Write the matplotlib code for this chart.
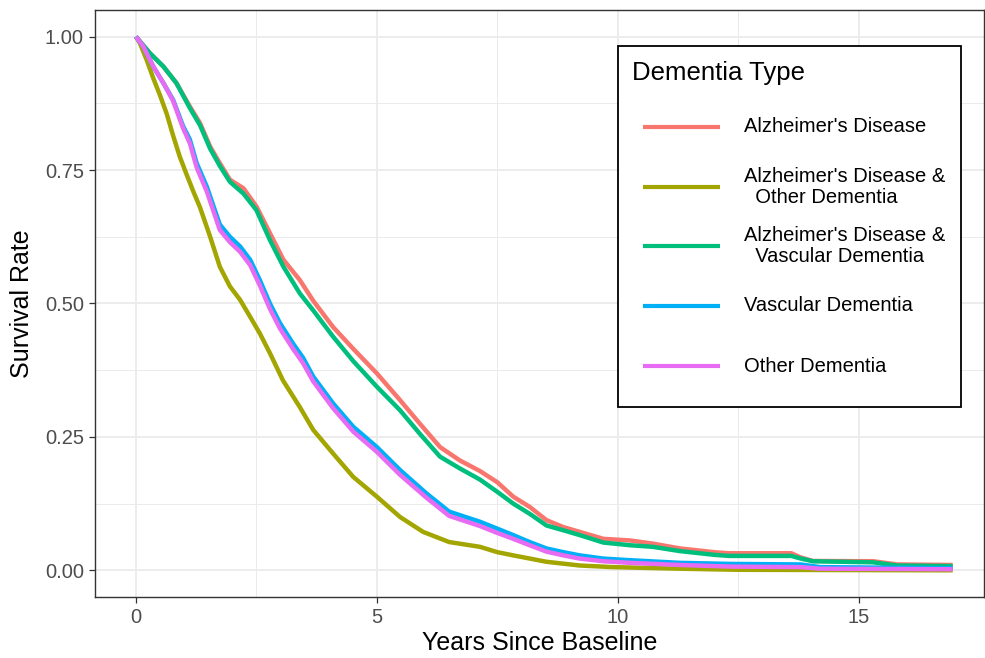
import matplotlib
matplotlib.use("Agg")
import matplotlib.pyplot as plt
from matplotlib.lines import Line2D
from matplotlib.patches import Rectangle

plt.rcParams['font.family'] = ['Liberation Sans', 'DejaVu Sans']

# survival curves (years since baseline, survival rate)
groups = ["Alzheimer's Disease",
          "Alzheimer's Disease &\n  Other Dementia",
          "Alzheimer's Disease &\n  Vascular Dementia",
          "Vascular Dementia",
          "Other Dementia"]
colors = ["#F8766D", "#A3A500", "#00BF7D", "#00B0F6", "#E76BF3"]

ad_t = [0, 0.29, 0.57, 0.84, 1.12, 1.33, 1.54, 1.74, 1.95, 2.23, 2.5, 2.78,
        3.06, 3.4, 3.68, 4.09, 4.51, 5.0, 5.48, 5.89, 6.31, 6.72, 7.14, 7.5,
        7.83, 8.17, 8.52, 8.87, 9.21, 9.7, 10.25, 10.73, 11.29, 11.7, 12.0,
        12.3, 13.6, 13.8, 14.05, 15.3, 15.8, 16.95]
ad_s = [1.0, 0.969, 0.944, 0.913, 0.869, 0.838, 0.794, 0.763, 0.732, 0.716,
        0.682, 0.632, 0.582, 0.544, 0.505, 0.456, 0.415, 0.369, 0.319, 0.275,
        0.231, 0.206, 0.186, 0.165, 0.138, 0.119, 0.094, 0.081, 0.072, 0.059,
        0.056, 0.05, 0.041, 0.037, 0.034, 0.032, 0.032, 0.024, 0.0175, 0.017,
        0.011, 0.01]

adod_t = [0, 0.08, 0.22, 0.36, 0.5, 0.64, 0.77, 0.91, 1.05, 1.19, 1.33, 1.54,
          1.74, 1.95, 2.16, 2.37, 2.57, 2.78, 3.05, 3.4, 3.68, 4.09, 4.51,
          5.0, 5.48, 5.96, 6.5, 7.14, 7.5, 7.83, 8.52, 9.21, 9.9, 11.3, 12.5,
          16.95]
adod_s = [1.0, 0.988, 0.957, 0.922, 0.89, 0.855, 0.815, 0.775, 0.742, 0.71,
          0.68, 0.625, 0.569, 0.532, 0.507, 0.475, 0.444, 0.407, 0.356, 0.306,
          0.263, 0.219, 0.175, 0.138, 0.1, 0.072, 0.053, 0.044, 0.034, 0.028,
          0.016, 0.009, 0.006, 0.003, 0.001, 0.0]

advad_t = ad_t
advad_s = [1.0, 0.969, 0.944, 0.913, 0.866, 0.834, 0.79, 0.758, 0.728, 0.706,
           0.675, 0.619, 0.569, 0.519, 0.487, 0.438, 0.392, 0.344, 0.30, 0.256,
           0.213, 0.191, 0.17, 0.147, 0.125, 0.106, 0.084, 0.075, 0.066,
           0.052, 0.047, 0.044, 0.036, 0.032, 0.029, 0.027, 0.027, 0.022,
           0.017, 0.015, 0.009, 0.008]

vad_t = [0, 0.15, 0.36, 0.57, 0.77, 0.98, 1.12, 1.26, 1.47, 1.74, 1.95, 2.16,
         2.37, 2.57, 2.78, 2.99, 3.26, 3.47, 3.68, 4.09, 4.51, 5.0, 5.48,
         6.03, 6.5, 7.14, 7.5, 7.83, 8.17, 8.52, 8.87, 9.21, 9.7, 10.25,
         11.29, 12.33, 13.8, 14.2, 16.95]
vad_s = [1.0, 0.982, 0.944, 0.913, 0.882, 0.832, 0.807, 0.763, 0.719, 0.648,
         0.625, 0.607, 0.582, 0.544, 0.5, 0.463, 0.425, 0.398, 0.363, 0.313,
         0.269, 0.231, 0.188, 0.144, 0.11, 0.091, 0.078, 0.066, 0.053, 0.041,
         0.034, 0.028, 0.022, 0.019, 0.014, 0.012, 0.011, 0.006, 0.004]

od_t = vad_t
od_s = [1.0, 0.982, 0.944, 0.913, 0.88, 0.828, 0.8, 0.755, 0.71, 0.638, 0.615,
        0.597, 0.572, 0.534, 0.49, 0.453, 0.415, 0.388, 0.354, 0.304, 0.26,
        0.222, 0.179, 0.136, 0.102, 0.083, 0.07, 0.059, 0.047, 0.035, 0.028,
        0.022, 0.017, 0.014, 0.01, 0.007, 0.006, 0.003, 0.002]

curves = [(ad_t, ad_s), (adod_t, adod_s), (advad_t, advad_s),
          (vad_t, vad_s), (od_t, od_s)]

W, H = 985, 658
fig = plt.figure(figsize=(W / 100, H / 100), dpi=100)
ax = fig.add_axes([95 / W, 1 - 597 / H, 889 / W, 587 / H])

for (t, s), c in zip(curves, colors):
    ax.plot(t, s, color=c, lw=3.2, solid_capstyle='butt', zorder=3)

ax.set_xlim(-0.85, 17.6)
ax.set_ylim(-0.05, 1.05)
ax.set_xticks([0, 5, 10, 15])
ax.set_xticks([2.5, 7.5, 12.5], minor=True)
ax.set_yticks([0, 0.25, 0.5, 0.75, 1.0])
ax.set_yticklabels(["0.00", "0.25", "0.50", "0.75", "1.00"])
ax.set_yticks([0.125, 0.375, 0.625, 0.875], minor=True)
ax.grid(which='major', color='#EBEBEB', lw=1.3, zorder=0)
ax.grid(which='minor', color='#EBEBEB', lw=0.7, zorder=0)
ax.set_axisbelow(True)
ax.tick_params(which='major', length=4, width=0.9, color='#333333',
               labelsize=14.5, labelcolor='#4D4D4D', pad=4)
ax.tick_params(which='minor', length=0)
for sp in ax.spines.values():
    sp.set_color('#333333')
    sp.set_linewidth(1.0)

ax.set_xlabel("Years Since Baseline", fontsize=18, labelpad=3)
ax.set_ylabel("Survival Rate", fontsize=18, labelpad=8)

# legend box drawn in pixel positions of the figure
def fx(px):
    return px / W

def fy(py):
    return 1 - py / H

fig.patches.append(Rectangle((fx(618), fy(407)), fx(961) - fx(618),
                             fy(46) - fy(407), transform=fig.transFigure,
                             facecolor='white', edgecolor='black', lw=1.3,
                             zorder=5))
fig.text(fx(632), fy(73), "Dementia Type", fontsize=18.5, va='center',
         ha='left', zorder=6)
row_y = [127, 187, 246, 306, 366]
for name, c, ry in zip(groups, colors, row_y):
    fig.lines.append(Line2D([fx(643), fx(720)], [fy(ry), fy(ry)],
                            transform=fig.transFigure, color=c, lw=3.0,
                            solid_capstyle='butt', zorder=6))
    fig.text(fx(744), fy(ry), name, fontsize=14.5, va='center', ha='left',
             linespacing=1.15, zorder=6)

fig.savefig("out.png", dpi=100)
